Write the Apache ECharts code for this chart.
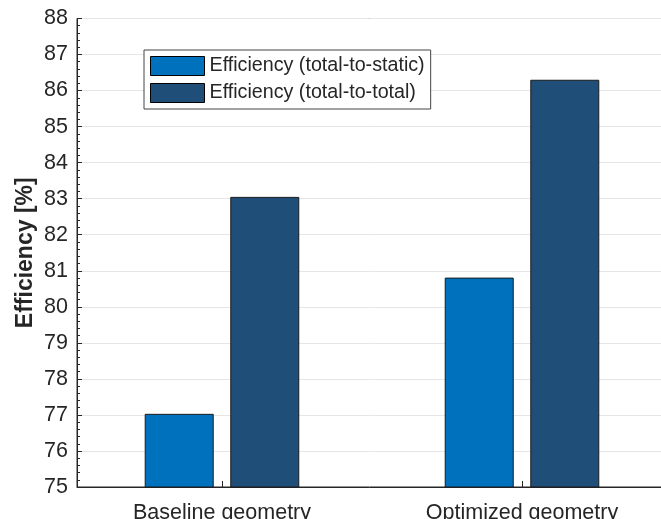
<!DOCTYPE html>
<html>
<head>
<meta charset="utf-8">
<script src="https://cdn.jsdelivr.net/npm/echarts@6/dist/echarts.min.js"></script>
<style>
html,body{margin:0;padding:0;background:#fff;}
#chart{width:661px;height:519px;}
</style>
</head>
<body>
<div id="chart"></div>
<script>
const categories = ['Baseline geometry', 'Optimized geometry'];
const seriesNames = ['Efficiency (total-to-static)', 'Efficiency (total-to-total)'];
const totalToStatic = [77.03, 80.81];
const totalToTotal = [83.05, 86.30];
const yTicks = [75, 76, 77, 78, 79, 80, 81, 82, 83, 84, 85, 86, 87, 88];

const FONT = '"Liberation Sans", Arial, sans-serif';
const AX = '#262626';

const toPoints = arr => arr.map((v, i) => [i + 1, v]);

const chart = echarts.init(document.getElementById('chart'), null, {renderer: 'canvas'});
chart.setOption({
  animation: false,
  backgroundColor: '#fff',
  textStyle: {fontFamily: FONT},
  grid: {
    left: 77, top: 18.5, right: -6, bottom: 32,
    outerBoundsMode: 'none',
    containLabel: false,
    show: true, borderColor: AX, borderWidth: 1, backgroundColor: '#fff'
  },
  legend: {
    orient: 'vertical',
    left: 144, top: 50,
    padding: [6, 6, 6, 6],
    itemWidth: 54, itemHeight: 19, itemGap: 7,
    backgroundColor: '#fff',
    borderColor: '#444', borderWidth: 1,
    icon: 'rect',
    itemStyle: {borderColor: '#000', borderWidth: 1},
    textStyle: {fontFamily: FONT, fontSize: 19.7, color: AX, lineHeight: 19},
    data: seriesNames
  },
  xAxis: {
    type: 'value',
    min: 0.5167, max: 2.4833,
    splitLine: {show: false},
    axisLine: {show: true, onZero: false, lineStyle: {color: AX, width: 1}},
    axisTick: {show: true, inside: true, length: 6, customValues: [1, 2], lineStyle: {color: AX}},
    axisLabel: {
      customValues: [1, 2],
      margin: 15,
      fontSize: 21.5, color: AX, fontFamily: FONT,
      formatter: v => categories[Math.round(v) - 1] || ''
    }
  },
  yAxis: {
    type: 'value',
    min: yTicks[0], max: yTicks[yTicks.length - 1], interval: 1,
    name: 'Efficiency [%]',
    nameLocation: 'middle',
    nameGap: 40,
    nameMoveOverlap: false,
    nameTextStyle: {fontFamily: FONT, fontSize: 23, fontWeight: 'bold', color: AX},
    axisLine: {show: true, lineStyle: {color: AX, width: 1}},
    axisTick: {show: true, inside: true, length: 5, lineStyle: {color: AX}},
    minorTick: {show: true, splitNumber: 5, length: 3, lineStyle: {color: AX}},
    splitLine: {show: true, lineStyle: {color: '#e6e6e6', width: 1}},
    axisLabel: {margin: 9, fontSize: 21.5, color: AX, fontFamily: FONT}
  },
  series: [
    {
      name: seriesNames[0], type: 'bar',
      data: toPoints(totalToStatic),
      barWidth: 69, barGap: '24%',
      itemStyle: {color: '#0072BD', borderColor: '#1a1a1a', borderWidth: 1}
    },
    {
      name: seriesNames[1], type: 'bar',
      data: toPoints(totalToTotal),
      barWidth: 69, barGap: '24%',
      itemStyle: {color: '#1F4E79', borderColor: '#1a1a1a', borderWidth: 1}
    }
  ]
});
</script>
</body>
</html>
